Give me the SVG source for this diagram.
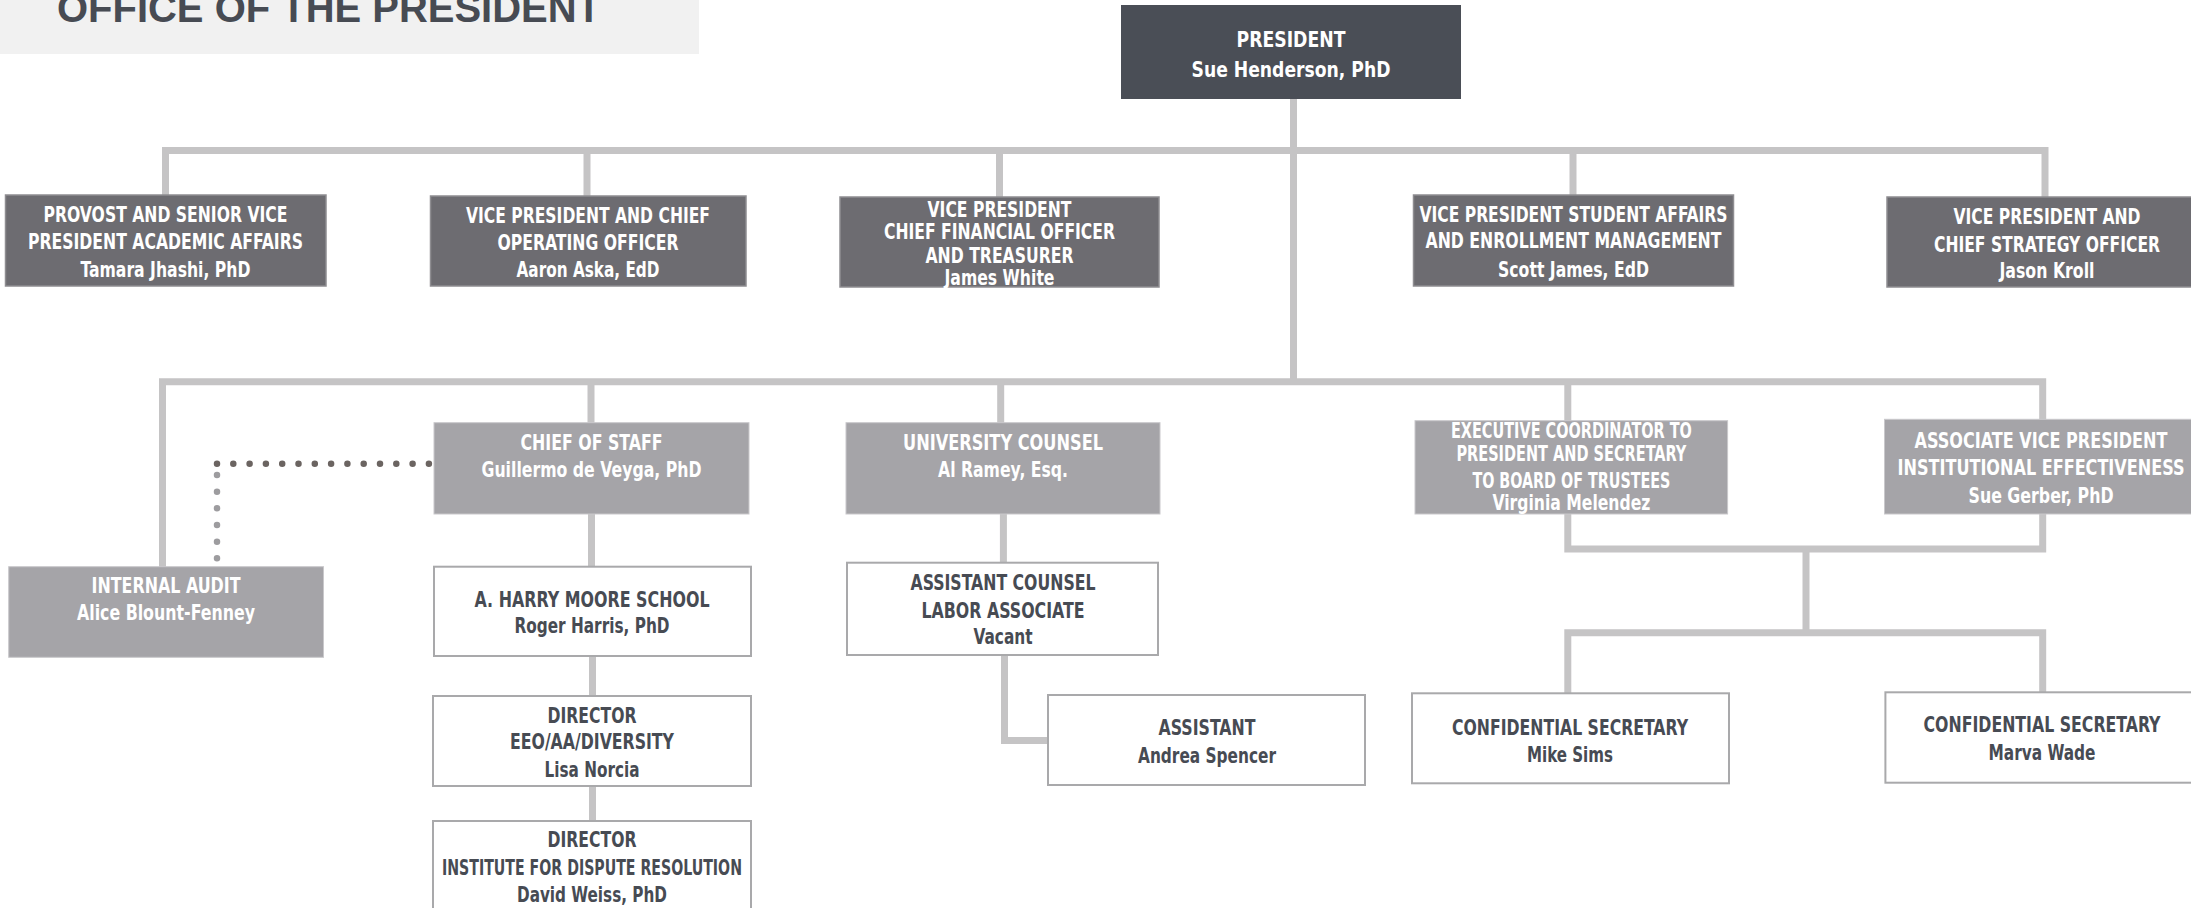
<svg xmlns="http://www.w3.org/2000/svg" width="2191" height="908" viewBox="0 0 2191 908">
<style>
.t{font-family:"Liberation Sans Narrow","DejaVu Sans Condensed","Liberation Sans",sans-serif;font-weight:bold;font-size:21px;text-anchor:middle}
.w{fill:#ffffff}
.d{fill:#474b53}
.b1{fill:#6d6c71;stroke:#8e8d91;stroke-width:1.5}
.b2{fill:#a5a4a8;stroke:#c9c8cb;stroke-width:1}
.b3{fill:#ffffff;stroke:#a9a9ab;stroke-width:2}
.c{fill:none;stroke:#c5c4c5;stroke-width:7;stroke-linejoin:miter}
</style>
<rect width="2191" height="908" fill="#ffffff"/>
<g id="connectors">
<path class="c" d="M1293.5,99 V385"/>
<path class="c" d="M165.5,195 V150.5 H2045 V197"/>
<path class="c" d="M587,150.5 V196 M999.5,150.5 V197 M1573,150.5 V195"/>
<path class="c" d="M162.5,566.7 V381.7 H2042.7 V419.3"/>
<path class="c" d="M591,381.7 V422.7 M1000.7,381.7 V422.7 M1567.8,381.7 V420.7"/>
<path class="c" d="M591.5,514 V566.7 M592.5,656 V696 M592.5,786 V821"/>
<path class="c" d="M1003.4,514 V562.7"/>
<path class="c" d="M1004.5,655 V740.5 H1048"/>
<path class="c" d="M1567.8,514 V549 H2042.7 V514 M1806,549 V632.7"/>
<path class="c" d="M1567.8,693.3 V632.7 H2042.7 V692.3"/>
<path d="M217,463.7 H429" fill="none" stroke="#6b6461" stroke-width="6.5" stroke-linecap="round" stroke-dasharray="0 16.3"/>
<path d="M217,475 V558.4" fill="none" stroke="#9d9c9f" stroke-width="6.5" stroke-linecap="round" stroke-dasharray="0 16.66"/>
</g>
<g id="title">
<rect x="0" y="0" width="699" height="54" fill="#f1f1f1"/>
<text x="57" y="22" font-family="'Liberation Sans',Arial,sans-serif" font-weight="bold" font-size="40" fill="#474b53" textLength="544" lengthAdjust="spacingAndGlyphs">OFFICE OF THE PRESIDENT</text>
</g>
<g id="president">
<rect x="1121" y="5" width="340" height="94" fill="#4a4e56"/>
<text class="t w" x="1291" y="46.7" font-size="23" textLength="109" lengthAdjust="spacingAndGlyphs">PRESIDENT</text>
<text class="t w" x="1291" y="76.7" font-size="23" textLength="199" lengthAdjust="spacingAndGlyphs">Sue Henderson, PhD</text>
</g>
<g id="provost">
<rect class="b1" x="5.5" y="195" width="320.5" height="91"/>
<text class="t w" x="165.5" y="221.7" textLength="244" lengthAdjust="spacingAndGlyphs">PROVOST AND SENIOR VICE</text>
<text class="t w" x="165.5" y="249.3" textLength="275" lengthAdjust="spacingAndGlyphs">PRESIDENT ACADEMIC AFFAIRS</text>
<text class="t w" x="165.5" y="276.7" textLength="170" lengthAdjust="spacingAndGlyphs">Tamara Jhashi, PhD</text>
</g>
<g id="coo">
<rect class="b1" x="430.5" y="196" width="315.5" height="90"/>
<text class="t w" x="588" y="222.7" textLength="244" lengthAdjust="spacingAndGlyphs">VICE PRESIDENT AND CHIEF</text>
<text class="t w" x="588" y="250" textLength="181" lengthAdjust="spacingAndGlyphs">OPERATING OFFICER</text>
<text class="t w" x="588" y="276.7" textLength="143" lengthAdjust="spacingAndGlyphs">Aaron Aska, EdD</text>
</g>
<g id="cfo">
<rect class="b1" x="840" y="197" width="319" height="90"/>
<text class="t w" x="999.5" y="216.7" textLength="144" lengthAdjust="spacingAndGlyphs">VICE PRESIDENT</text>
<text class="t w" x="999.5" y="239.3" textLength="231" lengthAdjust="spacingAndGlyphs">CHIEF FINANCIAL OFFICER</text>
<text class="t w" x="999.5" y="263.3" textLength="148" lengthAdjust="spacingAndGlyphs">AND TREASURER</text>
<text class="t w" x="999.5" y="285" textLength="110" lengthAdjust="spacingAndGlyphs">James White</text>
</g>
<g id="student-affairs">
<rect class="b1" x="1413.5" y="195" width="320" height="91"/>
<text class="t w" x="1573.5" y="221.7" textLength="308" lengthAdjust="spacingAndGlyphs">VICE PRESIDENT STUDENT AFFAIRS</text>
<text class="t w" x="1573.5" y="248.3" textLength="296" lengthAdjust="spacingAndGlyphs">AND ENROLLMENT MANAGEMENT</text>
<text class="t w" x="1573.5" y="276.7" textLength="151" lengthAdjust="spacingAndGlyphs">Scott James, EdD</text>
</g>
<g id="strategy">
<rect class="b1" x="1887" y="197" width="320" height="90"/>
<text class="t w" x="2047" y="224" textLength="187" lengthAdjust="spacingAndGlyphs">VICE PRESIDENT AND</text>
<text class="t w" x="2047" y="251.7" textLength="226" lengthAdjust="spacingAndGlyphs">CHIEF STRATEGY OFFICER</text>
<text class="t w" x="2047" y="278.3" textLength="95" lengthAdjust="spacingAndGlyphs">Jason Kroll</text>
</g>
<g id="chief-of-staff">
<rect class="b2" x="434" y="422.7" width="315" height="91.3"/>
<text class="t w" x="591.5" y="450" textLength="142" lengthAdjust="spacingAndGlyphs">CHIEF OF STAFF</text>
<text class="t w" x="591.5" y="476.7" textLength="220" lengthAdjust="spacingAndGlyphs">Guillermo de Veyga, PhD</text>
</g>
<g id="university-counsel">
<rect class="b2" x="846" y="422.7" width="314" height="91.3"/>
<text class="t w" x="1003" y="450" textLength="200" lengthAdjust="spacingAndGlyphs">UNIVERSITY COUNSEL</text>
<text class="t w" x="1003" y="477.3" textLength="130" lengthAdjust="spacingAndGlyphs">Al Ramey, Esq.</text>
</g>
<g id="exec-coordinator">
<rect class="b2" x="1415" y="420.7" width="312.6" height="93.3"/>
<text class="t w" x="1571.4" y="438.3" font-size="18" textLength="241" lengthAdjust="spacingAndGlyphs">EXECUTIVE COORDINATOR TO</text>
<text class="t w" x="1571.4" y="460.7" font-size="18" textLength="230" lengthAdjust="spacingAndGlyphs">PRESIDENT AND SECRETARY</text>
<text class="t w" x="1571.4" y="488.3" font-size="18" textLength="198" lengthAdjust="spacingAndGlyphs">TO BOARD OF TRUSTEES</text>
<text class="t w" x="1571.4" y="510" font-size="19" textLength="158" lengthAdjust="spacingAndGlyphs">Virginia Melendez</text>
</g>
<g id="avp">
<rect class="b2" x="1884.5" y="419.3" width="320" height="94.7"/>
<text class="t w" x="2041" y="448.3" textLength="253" lengthAdjust="spacingAndGlyphs">ASSOCIATE VICE PRESIDENT</text>
<text class="t w" x="2041" y="475" textLength="287" lengthAdjust="spacingAndGlyphs">INSTITUTIONAL EFFECTIVENESS</text>
<text class="t w" x="2041" y="502.7" textLength="145" lengthAdjust="spacingAndGlyphs">Sue Gerber, PhD</text>
</g>
<g id="internal-audit">
<rect class="b2" x="8.7" y="566.7" width="314.8" height="90.6"/>
<text class="t w" x="166" y="593.3" textLength="149" lengthAdjust="spacingAndGlyphs">INTERNAL AUDIT</text>
<text class="t w" x="166" y="620" textLength="178" lengthAdjust="spacingAndGlyphs">Alice Blount-Fenney</text>
</g>
<g id="harry-moore">
<rect class="b3" x="434" y="566.7" width="317" height="89.3"/>
<text class="t d" x="592" y="606.7" textLength="235" lengthAdjust="spacingAndGlyphs">A. HARRY MOORE SCHOOL</text>
<text class="t d" x="592" y="633.3" textLength="155" lengthAdjust="spacingAndGlyphs">Roger Harris, PhD</text>
</g>
<g id="director-eeo">
<rect class="b3" x="433" y="696" width="318" height="90"/>
<text class="t d" x="592" y="722.7" textLength="89" lengthAdjust="spacingAndGlyphs">DIRECTOR</text>
<text class="t d" x="592" y="749.3" textLength="164" lengthAdjust="spacingAndGlyphs">EEO/AA/DIVERSITY</text>
<text class="t d" x="592" y="776.7" textLength="95" lengthAdjust="spacingAndGlyphs">Lisa Norcia</text>
</g>
<g id="director-idr">
<rect class="b3" x="433" y="821" width="318" height="92"/>
<text class="t d" x="592" y="847.3" textLength="89" lengthAdjust="spacingAndGlyphs">DIRECTOR</text>
<text class="t d" x="592" y="875" font-size="19" textLength="300" lengthAdjust="spacingAndGlyphs">INSTITUTE FOR DISPUTE RESOLUTION</text>
<text class="t d" x="592" y="901.7" textLength="150" lengthAdjust="spacingAndGlyphs">David Weiss, PhD</text>
</g>
<g id="assistant-counsel">
<rect class="b3" x="847" y="562.7" width="311" height="92.3"/>
<text class="t d" x="1003" y="590" textLength="185" lengthAdjust="spacingAndGlyphs">ASSISTANT COUNSEL</text>
<text class="t d" x="1003" y="617.7" textLength="163" lengthAdjust="spacingAndGlyphs">LABOR ASSOCIATE</text>
<text class="t d" x="1003" y="644" textLength="59" lengthAdjust="spacingAndGlyphs">Vacant</text>
</g>
<g id="assistant">
<rect class="b3" x="1048" y="695" width="317" height="90"/>
<text class="t d" x="1207" y="735" textLength="97" lengthAdjust="spacingAndGlyphs">ASSISTANT</text>
<text class="t d" x="1207" y="762.7" textLength="138" lengthAdjust="spacingAndGlyphs">Andrea Spencer</text>
</g>
<g id="conf-sec-sims">
<rect class="b3" x="1412" y="693.3" width="317" height="90"/>
<text class="t d" x="1570" y="735" textLength="236" lengthAdjust="spacingAndGlyphs">CONFIDENTIAL SECRETARY</text>
<text class="t d" x="1570" y="762.3" textLength="86" lengthAdjust="spacingAndGlyphs">Mike Sims</text>
</g>
<g id="conf-sec-wade">
<rect class="b3" x="1885.4" y="692.3" width="320" height="90.4"/>
<text class="t d" x="2042" y="731.7" textLength="237" lengthAdjust="spacingAndGlyphs">CONFIDENTIAL SECRETARY</text>
<text class="t d" x="2042" y="760" textLength="107" lengthAdjust="spacingAndGlyphs">Marva Wade</text>
</g>
</svg>
